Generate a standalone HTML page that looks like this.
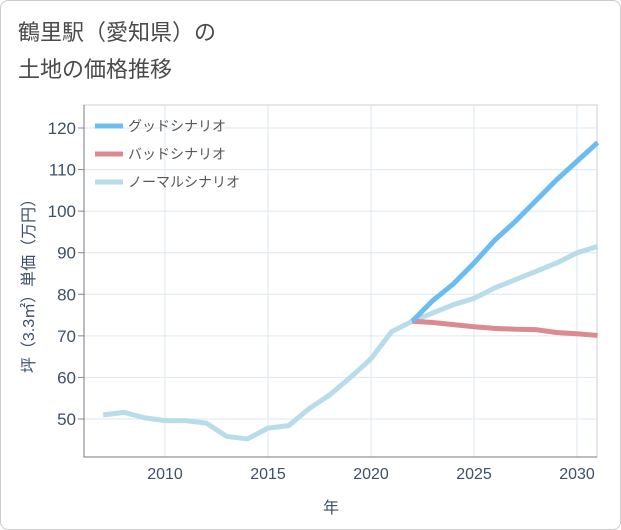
<!DOCTYPE html>
<html><head><meta charset="utf-8"><style>
body{margin:0;background:#fff;font-family:"Liberation Sans","Noto Sans CJK JP",sans-serif;}
#wrap{position:relative;width:619px;height:528px;border:1px solid #ccc;border-radius:8px;overflow:hidden;}
</style></head><body>
<div id="wrap">
<svg id="chart" width="621" height="530" style="position:absolute;left:-1px;top:-1px">
<text x="18" y="40" font-size="22" fill="#4a4a4a">鶴里駅（愛知県）の</text>
<text x="18" y="77" font-size="22" fill="#4a4a4a">土地の価格推移</text>
<g id="grid"></g><g id="axes"></g><g id="series"></g><g id="legend"></g>
<text x="331" y="513" font-size="16" fill="#3d5068" text-anchor="middle">年</text>
<text transform="translate(34,282) rotate(-90)" font-size="16" fill="#3d5068" text-anchor="middle">坪（3.3㎡）単価（万円）</text>
</svg>
</div>
<script>
const years=[2007,2008,2009,2010,2011,2012,2013,2014,2015,2016,2017,2018,2019,2020,2021,2022,2023,2024,2025,2026,2027,2028,2029,2030,2031];
const normalVals=[51,51.6,50.3,49.6,49.6,49,45.8,45.2,47.8,48.4,52.5,55.8,60,64.5,71,73.5,75.5,77.5,79,81.5,83.5,85.5,87.5,90,91.5];
const futureYears=[2022,2023,2024,2025,2026,2027,2028,2029,2030,2031];
const goodVals=[73.5,78.5,82.5,87.5,93,97.5,102.5,107.5,112,116.5];
const badVals=[73.5,73.2,72.7,72.2,71.8,71.6,71.5,70.8,70.5,70.1];
const xTicks=[2010,2015,2020,2025,2030];
const yTicks=[50,60,70,80,90,100,110,120];
const L=84,R=597,T=105,B=457;
const x=v=>165+(v-2010)*20.6;
const y=v=>128+(120-v)*4.157;
const NS="http://www.w3.org/2000/svg";
function mk(tag,at,parent){const e=document.createElementNS(NS,tag);for(const k in at)e.setAttribute(k,at[k]);document.getElementById(parent).appendChild(e);return e;}
const bg=mk('rect',{x:L,y:T,width:R-L,height:B-T,fill:'#fff',stroke:'#ccd',"stroke-width":1},'grid');


xTicks.forEach(t=>{const g=mk('line',{x1:x(t),x2:x(t),y1:T,y2:B,stroke:'#dde7ef'},'grid');


const tx=mk('text',{x:x(t),y:B+22,"font-size":16,fill:'#3d5068','text-anchor':'middle'},'axes');tx.textContent=t;

});
yTicks.forEach(t=>{const g=mk('line',{x1:L,x2:R,y1:y(t),y2:y(t),stroke:'#dde7ef'},'grid');


const tk=mk('line',{x1:L-6,x2:L,y1:y(t),y2:y(t),stroke:'#889'},'axes');


const tx=mk('text',{x:L-8,y:y(t)+6,"font-size":17,fill:'#3d5068','text-anchor':'end'},'axes');tx.textContent=t;

});
const ax=mk('path',{d:`M${L},${T}V${B}H${R}`,stroke:'#778',fill:'none'},'axes');


function line(xs,vs,col,name){const p=mk('polyline',{points:xs.map((d,i)=>x(d)+','+y(vs[i])).join(' '),fill:'none',stroke:col,"stroke-width":5,"stroke-linejoin":'round'},'series');

}
line(years,normalVals,'#b8dcea','normal-scenario-line');
line(futureYears,badVals,'#dc8a90','bad-scenario-line');
line(futureYears,goodVals,'#6bbcf2','good-scenario-line');
[['グッドシナリオ','#6bbcf2'],['バッドシナリオ','#dc8a90'],['ノーマルシナリオ','#b8dcea']].forEach((d,i)=>{const yy=126+i*28;
const s=mk('line',{x1:95,x2:123,y1:yy,y2:yy,stroke:d[1],"stroke-width":5},'legend');


const t=mk('text',{x:128,y:yy+5,"font-size":14,fill:'#555'},'legend');t.textContent=d[0];

});
</script>
</body></html>
